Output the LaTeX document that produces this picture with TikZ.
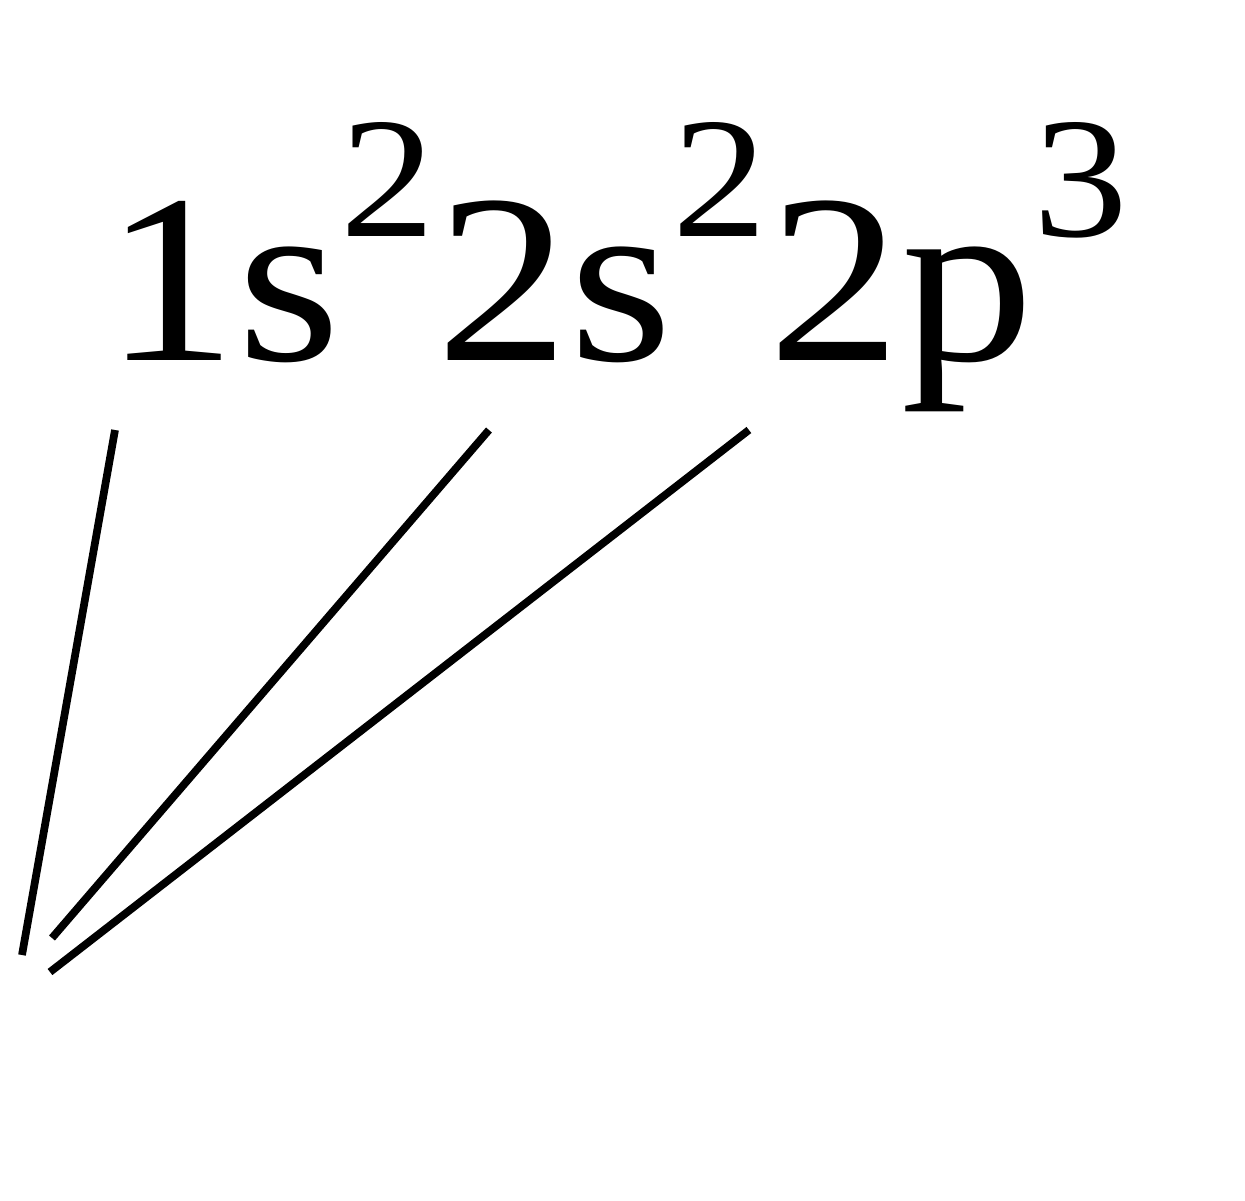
\documentclass[tikz,border=0pt]{standalone}
\usepackage{fontspec}
\setmainfont{Liberation Serif}
\usepackage{tikz}
\usetikzlibrary{positioning}
\newcommand\orbital[2]{\scalebox{1.1}[1]{#1\raisebox{35pt}{\fontsize{49}{49}\selectfont #2}}}

\begin{document}
\begin{tikzpicture}[orb/.style={inner sep=0pt, anchor=base west,
   font=\fontsize{68.6}{80}\selectfont}]
\useasboundingbox (0,0) rectangle (12.45,12);
\node (o1) [orb] at (1.04,8.40) {\orbital{1s}{2}};
\node (o2) [orb] at (o1.base east) {\orbital{2s}{2}};
\node (o3) [orb] at (o2.base east) {\orbital{2p}{3}};
\coordinate (t1) at ([xshift=1.1mm,yshift=-7mm]o1.base west);
\coordinate (t2) at ([xshift=5.3mm,yshift=-7mm]o2.base west);
\coordinate (t3) at ([xshift=-1.9mm,yshift=-7mm]o3.base west);
\coordinate (e1) at (0.22,2.45);
\coordinate (e2) at (0.52,2.62);
\coordinate (e3) at (0.50,2.28);
\path[draw, line width=2.2pt]
(t1) -- (e1)
(t2) -- (e2)
(t3) -- (e3);
\end{tikzpicture}
\end{document}
